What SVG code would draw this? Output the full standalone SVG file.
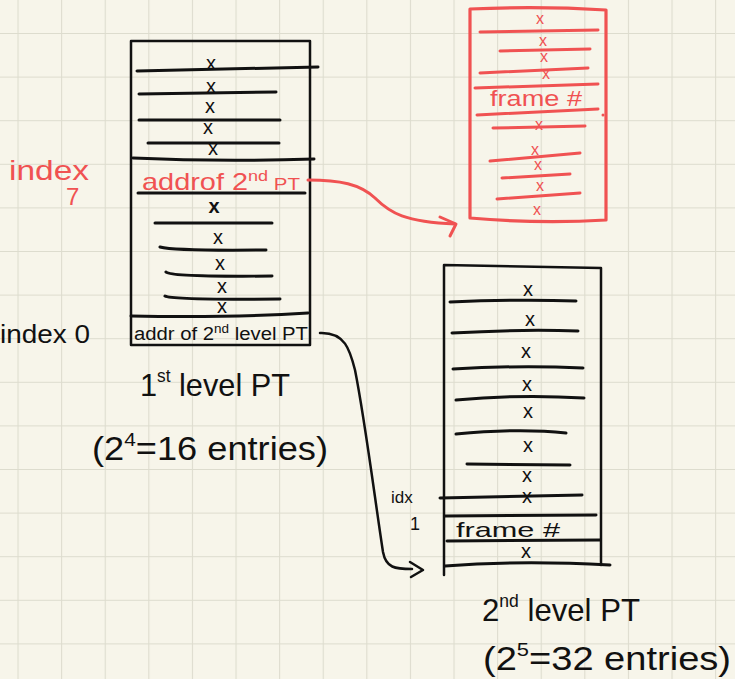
<svg xmlns="http://www.w3.org/2000/svg" width="735" height="679" viewBox="0 0 735 679">
  <defs>
    <pattern id="grid" x="17.5" y="33" width="43.6" height="43.6" patternUnits="userSpaceOnUse">
      <path d="M0 0H43.6M0 0V43.6" fill="none" stroke="#dddcce" stroke-width="2.2"/>
    </pattern>
    <style>
      .ink { fill: none; stroke: #111; stroke-linecap: round; stroke-linejoin: round; }
      .red { fill: none; stroke: #f05252; stroke-linecap: round; stroke-linejoin: round; }
      .row { stroke-width: 3; }
      .edge { stroke-width: 2.5; }
      .t { font-family: "Liberation Sans", "DejaVu Sans", sans-serif; fill: #111; }
      .tr { font-family: "Liberation Sans", "DejaVu Sans", sans-serif; fill: #f05252; }
      .x { font-family: "Liberation Sans", sans-serif; font-size: 20px; fill: #111; text-anchor: middle; }
      .xr { font-family: "Liberation Sans", sans-serif; font-size: 16px; fill: #f05252; text-anchor: middle; }
    </style>
  </defs>

  <!-- paper -->
  <rect width="735" height="679" fill="#f7f5ea"/>
  <rect width="735" height="679" fill="url(#grid)"/>

  <!-- first-level page table -->
  <g id="pt1">
    <rect class="ink edge" x="131" y="41" width="179" height="304"/>
    <path class="ink row" d="M137 71 L318 67"/>
    <path class="ink row" d="M139 94 L276 92"/>
    <path class="ink row" d="M139 120 L280 120"/>
    <path class="ink row" d="M148 143 L279 143"/>
    <path class="ink row" d="M133 158 Q220 162 314 159"/>
    <path class="ink row" d="M138 193 L305 193"/>
    <path class="ink row" d="M155 223 L272 223"/>
    <path class="ink row" d="M160 247 Q175 251 266 250"/>
    <path class="ink row" d="M166 272 Q170 277 272 276"/>
    <path class="ink row" d="M165 296 Q172 300 280 299"/>
    <path class="ink row" d="M131 316 Q230 318 308 313"/>
    <text class="x" x="211" y="70">x</text>
    <text class="x" x="211" y="93">x</text>
    <text class="x" x="210" y="113">x</text>
    <text class="x" x="208" y="134">x</text>
    <text class="x" x="213" y="155" font-size="13">x</text>
    <text class="x" x="214" y="213" font-weight="bold" font-size="22">x</text>
    <text class="x" x="218" y="244">x</text>
    <text class="x" x="220" y="270">x</text>
    <text class="x" x="222" y="293">x</text>
    <text class="x" x="222" y="313">x</text>
    <text class="tr" x="142" y="190" font-size="24" textLength="158" lengthAdjust="spacingAndGlyphs">addrof 2<tspan font-size="15" dy="-9">nd</tspan><tspan font-size="17" dy="9"> PT</tspan></text>
    <text class="t" x="134" y="340" font-size="18" textLength="174" lengthAdjust="spacingAndGlyphs">addr of 2<tspan font-size="12" dy="-7">nd</tspan><tspan dy="7"> level PT</tspan></text>
  </g>

  <!-- index labels -->
  <g id="labels-pt1">
    <text class="tr" x="9" y="180" font-size="28" textLength="80" lengthAdjust="spacingAndGlyphs">index</text>
    <text class="tr" x="66" y="205" font-size="24">7</text>
    <text class="t" x="0" y="343" font-size="26" textLength="90" lengthAdjust="spacingAndGlyphs">index 0</text>
    <text class="t" x="140" y="396" font-size="32" textLength="150" lengthAdjust="spacingAndGlyphs">1<tspan font-size="18" dy="-14">st</tspan><tspan dy="14"> level PT</tspan></text>
    <text class="t" x="92" y="460" font-size="33" textLength="236" lengthAdjust="spacingAndGlyphs">(2<tspan font-size="19" dy="-14">4</tspan><tspan dy="14">=16 entries)</tspan></text>
  </g>

  <!-- physical frame (red) -->
  <g id="frame">
    <path class="red" stroke-width="3.2" d="M470 9 Q540 6 606 10 L606 220 Q540 224 470 218 Z"/>
    <path class="red row" d="M480 32 L598 30"/>
    <path class="red row" d="M500 51 L590 49"/>
    <path class="red row" d="M480 73 L588 68"/>
    <path class="red row" d="M475 88 L598 84"/>
    <path class="red row" d="M477 115 L598 109"/>
    <path class="red row" d="M493 128 L585 126"/>
    <path class="red row" d="M490 161 L580 153"/>
    <path class="red row" d="M502 178 L570 174"/>
    <path class="red row" d="M497 199 L580 193"/>
    <text class="xr" x="540" y="24">x</text>
    <text class="xr" x="543" y="46">x</text>
    <text class="xr" x="544" y="62" font-size="14">x</text>
    <text class="xr" x="546" y="79" font-size="11">x</text>
    <text class="xr" x="539" y="130">x</text>
    <text class="xr" x="535" y="155" font-size="14">x</text>
    <text class="xr" x="538" y="170" font-size="14">x</text>
    <text class="xr" x="540" y="191">x</text>
    <text class="xr" x="537" y="215">x</text>
    <text class="tr" x="490" y="106" font-size="22" textLength="92" lengthAdjust="spacingAndGlyphs">frame #</text>
    <circle cx="603" cy="115" r="1.5" fill="#f05252"/>
  </g>

  <!-- second-level page table -->
  <g id="pt2">
    <path class="ink edge" d="M444 575 L444 265 L601 268 L601 565"/>
    <path class="ink row" d="M450 302 Q520 299 576 301"/>
    <path class="ink row" d="M452 333 Q520 329 578 331"/>
    <path class="ink row" d="M453 369 Q520 365 583 368"/>
    <path class="ink row" d="M456 400 Q520 394 584 398"/>
    <path class="ink row" d="M456 434 Q520 428 566 433"/>
    <path class="ink row" d="M467 464 L570 465"/>
    <path class="ink row" d="M440 498 L582 495"/>
    <path class="ink row" d="M445 516 L596 515"/>
    <path class="ink row" d="M447 541 L600 540"/>
    <path class="ink row" d="M445 566 Q520 560 610 565"/>
    <text class="x" x="528" y="296">x</text>
    <text class="x" x="530" y="326">x</text>
    <text class="x" x="526" y="358">x</text>
    <text class="x" x="527" y="391" font-size="15">x</text>
    <text class="x" x="528" y="418">x</text>
    <text class="x" x="528" y="452">x</text>
    <text class="x" x="527" y="482">x</text>
    <text class="x" x="527" y="503" font-size="14">x</text>
    <text class="x" x="526" y="558" font-size="12">x</text>
    <text class="t" x="456" y="537" font-size="21" textLength="104" lengthAdjust="spacingAndGlyphs">frame #</text>
  </g>

  <!-- second-level labels -->
  <g id="labels-pt2">
    <text class="t" x="391" y="503" font-size="17">idx</text>
    <text class="t" x="410" y="530" font-size="18">1</text>
    <text class="t" x="482" y="621" font-size="32" textLength="158" lengthAdjust="spacingAndGlyphs">2<tspan font-size="18" dy="-14">nd</tspan><tspan dy="14"> level PT</tspan></text>
    <text class="t" x="483" y="670" font-size="33" textLength="248" lengthAdjust="spacingAndGlyphs">(2<tspan font-size="19" dy="-14">5</tspan><tspan dy="14">=32 entries)</tspan></text>
  </g>

  <!-- connectors -->
  <g id="connectors">
    <path class="red" stroke-width="3" d="M308 180 C340 180 360 184 375 198 C390 213 405 222 455 224"/>
    <path class="red" stroke-width="3" d="M440 217 L456 224 L450 236"/>
    <path class="ink" stroke-width="2.5" d="M320 333 C345 332 350 350 355 370 C365 420 375 500 383 552 C386 568 395 569 412 569"/>
    <path class="ink" stroke-width="2.5" d="M410 562 L423 570 L411 577"/>
  </g>
</svg>
